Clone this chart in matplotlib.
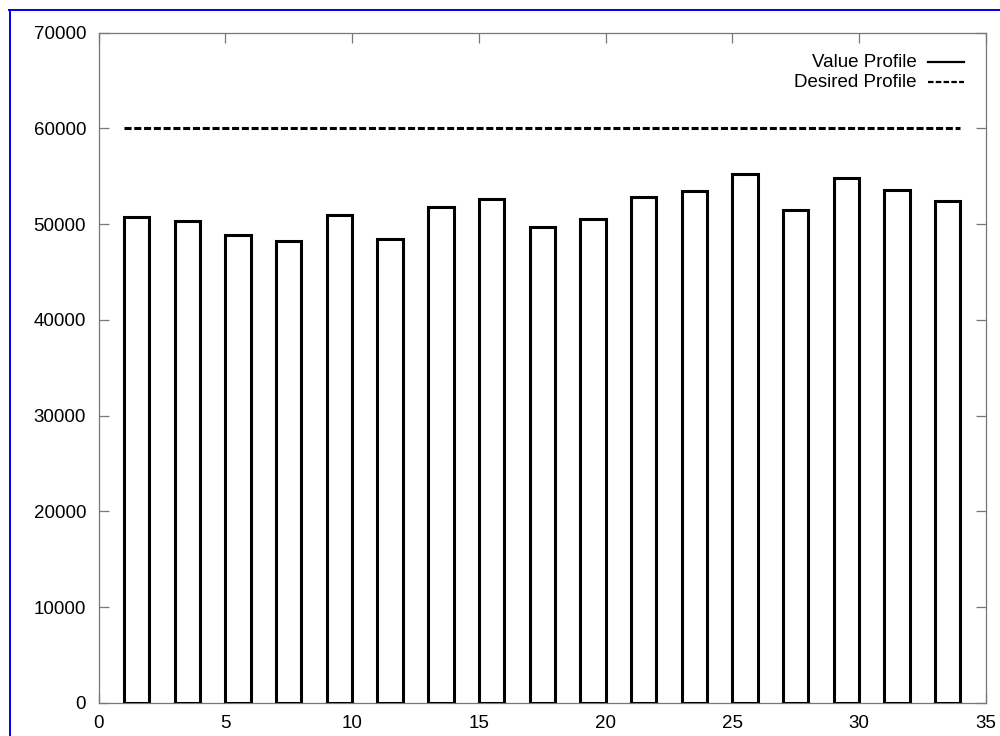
import matplotlib
matplotlib.use("Agg")
import matplotlib.pyplot as plt
from matplotlib.lines import Line2D

# Data
bar_x = [1.5, 3.5, 5.5, 7.5, 9.5, 11.5, 13.5, 15.5, 17.5, 19.5, 21.5, 23.5, 25.5, 27.5, 29.5, 31.5, 33.5]
values = [50700, 50300, 48900, 48200, 51000, 48500, 51800, 52600, 49700,
          50500, 52800, 53500, 55200, 51500, 54800, 53600, 52400]
desired_x = [1, 34]
desired_y = [60000, 60000]
x_ticks = [0, 5, 10, 15, 20, 25, 30, 35]
y_ticks = [0, 10000, 20000, 30000, 40000, 50000, 60000, 70000]
legend_labels = ["Value Profile", "Desired Profile"]

plt.rcParams['font.family'] = ['Liberation Sans', 'DejaVu Sans']
fig = plt.figure(figsize=(10, 7.36), dpi=100)
ax = fig.add_axes([0.0987, 0.0452, 0.887, 0.9103])

ax.bar(bar_x, values, width=1.0, facecolor='white', edgecolor='black', linewidth=2.2, zorder=3)
ax.plot(desired_x, desired_y, color='black', linewidth=2.2, dashes=(2.3, 0.9), zorder=3)

ax.set_xlim(0, 35)
ax.set_ylim(0, 70000)
ax.set_xticks(x_ticks)
ax.set_yticks(y_ticks)
ax.set_xticklabels([str(t) for t in x_ticks])
ax.set_yticklabels([str(t) for t in y_ticks])

gray = '#777777'
for s in ax.spines.values():
    s.set_color(gray)
    s.set_linewidth(0.9)
ax.tick_params(direction='in', length=7, width=0.9, color=gray, labelsize=13.5,
               top=True, right=True, labelcolor='black')
ax.tick_params(axis='x', pad=9)
ax.tick_params(axis='y', pad=9)

# Legend (gnuplot style: text right-aligned, sample on the right)
ys = [0.9563, 0.9264]
styles = [dict(linestyle='-'), dict(dashes=(2.5, 1.0))]
for lab, yy, st in zip(legend_labels, ys, styles):
    ax.text(0.9225, yy, lab, transform=ax.transAxes, ha='right', va='center', fontsize=13.5)
    ax.add_line(Line2D([0.935, 0.976], [yy, yy], transform=ax.transAxes, color='black',
                       linewidth=1.6, **st))

# Blue frame (top and left edges)
fig.add_artist(Line2D([0.009, 1.0], [1 - 9.5 / 736, 1 - 9.5 / 736], transform=fig.transFigure,
                      color='#0000ee', linewidth=1.4))
fig.add_artist(Line2D([0.0095, 0.0095], [0, 1 - 9.5 / 736], transform=fig.transFigure,
                      color='#0000ee', linewidth=1.4))

fig.savefig('out.png', dpi=100)
